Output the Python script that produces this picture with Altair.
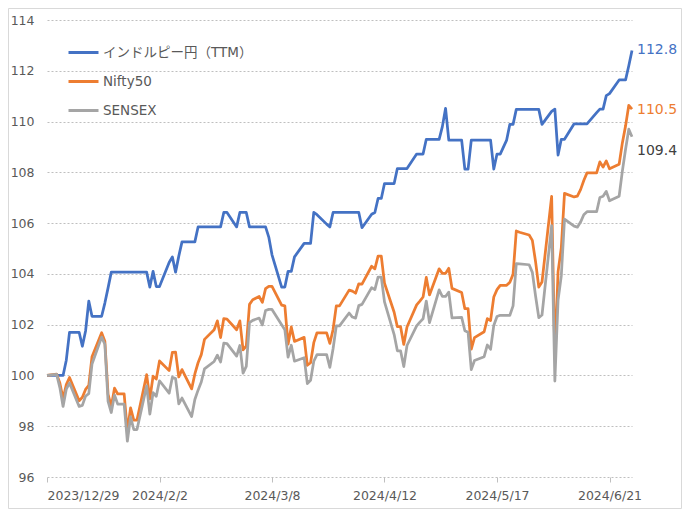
import altair as alt
import pandas as pd

# ---------------- data ----------------
dates = [
    "2023-12-29",
    "2024-01-01", "2024-01-02", "2024-01-03", "2024-01-04", "2024-01-05",
    "2024-01-08", "2024-01-09", "2024-01-10", "2024-01-11", "2024-01-12",
    "2024-01-15", "2024-01-16", "2024-01-17", "2024-01-18", "2024-01-19", "2024-01-20",
    "2024-01-22", "2024-01-23", "2024-01-24", "2024-01-25", "2024-01-26",
    "2024-01-29", "2024-01-30", "2024-01-31",
    "2024-02-01", "2024-02-02",
    "2024-02-05", "2024-02-06", "2024-02-07", "2024-02-08", "2024-02-09",
    "2024-02-12", "2024-02-13", "2024-02-14", "2024-02-15", "2024-02-16",
    "2024-02-19", "2024-02-20", "2024-02-21", "2024-02-22", "2024-02-23",
    "2024-02-26", "2024-02-27", "2024-02-28", "2024-02-29",
    "2024-03-01", "2024-03-02",
    "2024-03-04", "2024-03-05", "2024-03-06", "2024-03-07", "2024-03-08",
    "2024-03-11", "2024-03-12", "2024-03-13", "2024-03-14", "2024-03-15",
    "2024-03-18", "2024-03-19", "2024-03-20", "2024-03-21", "2024-03-22",
    "2024-03-25", "2024-03-26", "2024-03-27", "2024-03-28", "2024-03-29",
    "2024-04-01", "2024-04-02", "2024-04-03", "2024-04-04", "2024-04-05",
    "2024-04-08", "2024-04-09", "2024-04-10", "2024-04-11", "2024-04-12",
    "2024-04-15", "2024-04-16", "2024-04-17", "2024-04-18", "2024-04-19",
    "2024-04-22", "2024-04-23", "2024-04-24", "2024-04-25", "2024-04-26",
    "2024-04-29", "2024-04-30",
    "2024-05-01", "2024-05-02", "2024-05-03",
    "2024-05-06", "2024-05-07", "2024-05-08", "2024-05-09", "2024-05-10",
    "2024-05-13", "2024-05-14", "2024-05-15", "2024-05-16", "2024-05-17", "2024-05-18",
    "2024-05-20", "2024-05-21", "2024-05-22", "2024-05-23", "2024-05-24",
    "2024-05-27", "2024-05-28", "2024-05-29", "2024-05-30", "2024-05-31",
    "2024-06-03", "2024-06-04", "2024-06-05", "2024-06-06", "2024-06-07",
    "2024-06-10", "2024-06-11", "2024-06-12", "2024-06-13", "2024-06-14",
    "2024-06-17", "2024-06-18", "2024-06-19", "2024-06-20", "2024-06-21",
    "2024-06-24", "2024-06-25", "2024-06-26", "2024-06-27", "2024-06-28",
]

rupee_yen = [
    100.00,
    100.00, 100.00, 100.00, 100.60, 101.70,
    101.70, 101.15, 101.75, 102.93, 102.33,
    102.33, 102.85, 103.45, 104.07, 104.07, 104.07,
    104.07, 104.07, 104.07, 104.07, 104.07,
    104.07, 103.48, 104.10,
    103.50, 103.50,
    104.45, 104.67, 104.07, 104.70, 105.26,
    105.26, 105.26, 105.85, 105.85, 105.85,
    105.85, 105.85, 105.85, 106.42, 106.42,
    105.85, 106.42, 106.42, 106.42,
    105.85, 105.85,
    105.85, 105.85, 105.85, 105.45, 104.75,
    103.48, 103.48, 104.10, 104.10, 104.67,
    105.20, 105.20, 105.20, 106.42, 106.33,
    105.96, 105.85, 106.42, 106.42, 106.42,
    106.42, 106.42, 106.42, 106.42, 105.82,
    106.35, 106.42, 106.97, 106.97, 107.56,
    107.56, 108.15, 108.15, 108.15, 108.15,
    108.72, 108.72, 108.72, 109.30, 109.30,
    109.30, 109.80,
    110.52, 109.27, 109.27,
    109.27, 108.13, 108.13, 109.27, 109.27,
    109.27, 109.27, 109.27, 108.13, 108.72, 108.72,
    109.27, 109.89, 109.89, 110.48, 110.48,
    110.48, 110.48, 110.48, 110.48, 109.89,
    110.40, 110.49, 108.68, 109.30, 109.30,
    109.91, 109.91, 109.91, 109.91, 109.91,
    110.35, 110.49, 110.49, 111.02, 111.10,
    111.64, 111.64, 111.64, 112.20, 112.80,
]

nifty50 = [
    100.00,
    100.05, 99.70, 99.08, 99.64, 99.92,
    99.00, 99.14, 99.45, 99.61, 100.74,
    101.68, 101.35, 99.26, 98.78, 99.50, 99.27,
    99.27, 97.80, 98.72, 98.24, 98.24,
    100.03, 99.08, 99.97,
    99.86, 100.57,
    100.19, 100.91, 100.92, 99.94, 100.23,
    99.47, 100.06, 100.50, 100.82, 101.42,
    101.80, 102.15, 101.49, 102.24, 102.22,
    101.80, 102.15, 101.01, 101.16,
    102.80, 102.98,
    103.11, 102.88, 103.42, 103.51, 103.51,
    102.77, 102.74, 101.23, 101.91, 101.34,
    101.50, 100.40, 100.50, 101.29, 101.68,
    101.68, 101.26, 101.81, 102.74, 102.74,
    103.36, 103.32, 103.24, 103.61, 103.60,
    104.30, 104.20, 104.70, 104.70, 103.63,
    102.49, 101.92, 101.92, 101.22, 101.91,
    102.78, 102.93, 103.09, 103.86, 103.17,
    104.20, 104.02,
    104.02, 104.22, 103.43,
    103.27, 102.63, 102.63, 101.04, 101.49,
    101.72, 102.24, 102.16, 103.09, 103.38, 103.55,
    103.55, 103.67, 103.99, 105.69, 105.64,
    105.53, 105.32, 104.48, 103.48, 103.68,
    107.05, 100.70, 104.09, 105.02, 107.17,
    107.03, 107.06, 107.32, 107.68, 107.98,
    107.98, 108.41, 108.21, 108.45, 108.14,
    108.32, 109.16, 109.83, 110.64, 110.49,
]

sensex = [
    100.00,
    100.04, 99.52, 98.78, 99.46, 99.70,
    98.78, 98.82, 99.19, 99.28, 100.45,
    101.51, 101.23, 98.98, 98.54, 99.23, 98.87,
    98.87, 97.41, 98.37, 97.87, 97.87,
    99.59, 98.48, 99.32,
    99.18, 99.79,
    99.30, 99.93, 99.88, 98.88, 99.11,
    98.38, 99.05, 99.42, 99.74, 100.26,
    100.55, 100.80, 100.53, 101.27, 101.25,
    100.76, 101.18, 100.09, 100.36,
    102.08, 102.17,
    102.26, 101.99, 102.56, 102.60, 102.60,
    102.00, 101.80, 100.72, 101.19, 100.56,
    100.70, 99.68, 99.81, 100.56, 100.82,
    100.82, 100.32, 101.05, 101.95, 101.95,
    102.46, 102.30, 102.26, 102.75, 102.80,
    103.46, 103.38, 103.87, 103.87, 102.90,
    101.61, 100.97, 100.97, 100.35, 101.18,
    101.95, 102.10, 102.23, 102.93, 102.08,
    103.37, 103.11,
    103.11, 103.28, 102.27,
    102.29, 101.76, 101.70, 100.23, 100.59,
    100.74, 101.20, 101.03, 101.97, 102.32, 102.37,
    102.37, 102.37, 102.74, 104.40, 104.39,
    104.36, 104.06, 103.13, 102.28, 102.38,
    105.90, 99.78, 102.97, 103.92, 106.16,
    105.88, 105.84, 106.04, 106.33, 106.45,
    106.45, 107.01, 107.06, 107.25, 106.88,
    107.06, 108.05, 108.91, 109.70, 109.40,
]

series_names = ["インドルピー円（TTM）", "Nifty50", "SENSEX"]
series_colors = ["#4472C4", "#ED7D31", "#A5A5A5"]
end_label_colors = ["#4472C4", "#ED7D31", "#404040"]
end_label_dy = [0, 1, 14]

y_ticks = [96, 98, 100, 102, 104, 106, 108, 110, 112, 114]
x_tick_dates = ["2023-12-29", "2024-02-02", "2024-03-08", "2024-04-12", "2024-05-17", "2024-06-21"]

all_values = [rupee_yen, nifty50, sensex]
for v in all_values:
    assert len(v) == len(dates), len(v)


def to_dt(s):
    y, m, d = (int(p) for p in s.split("-"))
    return alt.DateTime(year=y, month=m, date=d, utc=True)


rows = []
for name, vals in zip(series_names, all_values):
    for d, v in zip(dates, vals):
        rows.append({"date": d, "series": name, "value": v})
df = pd.DataFrame(rows)

FONT = "DejaVu Sans, Noto Sans CJK JP"
LABEL_GREY = "#595959"

x_enc = alt.X(
    "date:T",
    scale=alt.Scale(type="utc", domain=[to_dt(dates[0]), to_dt(dates[-1])]),
    axis=alt.Axis(
        values=[to_dt(s) for s in x_tick_dates],
        labelExpr="utcFormat(datum.value, '%Y/%-m/%-d')",
        title=None,
        grid=False,
        domain=False,
        ticks=True,
        tickSize=5,
        tickColor="#BFBFBF",
        labelFont=FONT,
        labelFontSize=12.5,
        labelColor=LABEL_GREY,
        labelPadding=7,
        labelAngle=0,
        labelOverlap=False,
    ),
)
y_enc = alt.Y(
    "value:Q",
    scale=alt.Scale(domain=[96, 114], nice=False, zero=False),
    axis=alt.Axis(
        values=y_ticks,
        title=None,
        domain=False,
        ticks=False,
        grid=True,
        gridColor="#BFBFBF",
        gridDash=[2, 2],
        gridWidth=1,
        labelFont=FONT,
        labelFontSize=12.5,
        labelColor=LABEL_GREY,
        labelPadding=13,
    ),
)
color_enc = alt.Color(
    "series:N",
    scale=alt.Scale(domain=series_names, range=series_colors),
    legend=alt.Legend(
        title=None,
        orient="none",
        legendX=20,
        legendY=16,
        symbolType="stroke",
        symbolSize=900,
        symbolStrokeWidth=3,
        labelFont=FONT,
        labelFontSize=13.5,
        labelColor=LABEL_GREY,
        labelOffset=3,
        rowPadding=6,
        padding=0,
    ),
)

base = alt.Chart(df)
layers = []

frame = alt.Chart(pd.DataFrame({"k": [0]})).mark_rect(
    filled=False, stroke="#D9D9D9", strokeWidth=1
).encode(
    x=alt.value(-38.5), x2=alt.value(634.5), y=alt.value(-11.5), y2=alt.value(488.5)
)
layers.append(frame)

for name in series_names:
    layers.append(
        base.transform_filter(alt.datum.series == name)
        .mark_line(strokeWidth=2.75, strokeJoin="round")
        .encode(x=x_enc, y=y_enc, color=color_enc)
    )

for name, vals, col, dy in zip(series_names, all_values, end_label_colors, end_label_dy):
    lab_df = pd.DataFrame({"date": [dates[-1]], "value": [vals[-1]], "label": [f"{vals[-1]:.1f}"]})
    layers.append(
        alt.Chart(lab_df)
        .mark_text(align="left", baseline="middle", dx=5, dy=dy, fontSize=14, font=FONT, color=col)
        .encode(x=x_enc, y=y_enc, text="label:N")
    )

chart = (
    alt.layer(*layers)
    .properties(
        width=585,
        height=457,
        autosize=alt.AutoSizeParams(type="none"),
        padding={"left": 39, "top": 12, "right": 50, "bottom": 32},
        background="white",
    )
    .configure_view(stroke=None)
)

chart.save("out.html", embed_options={"renderer": "svg", "actions": False})
